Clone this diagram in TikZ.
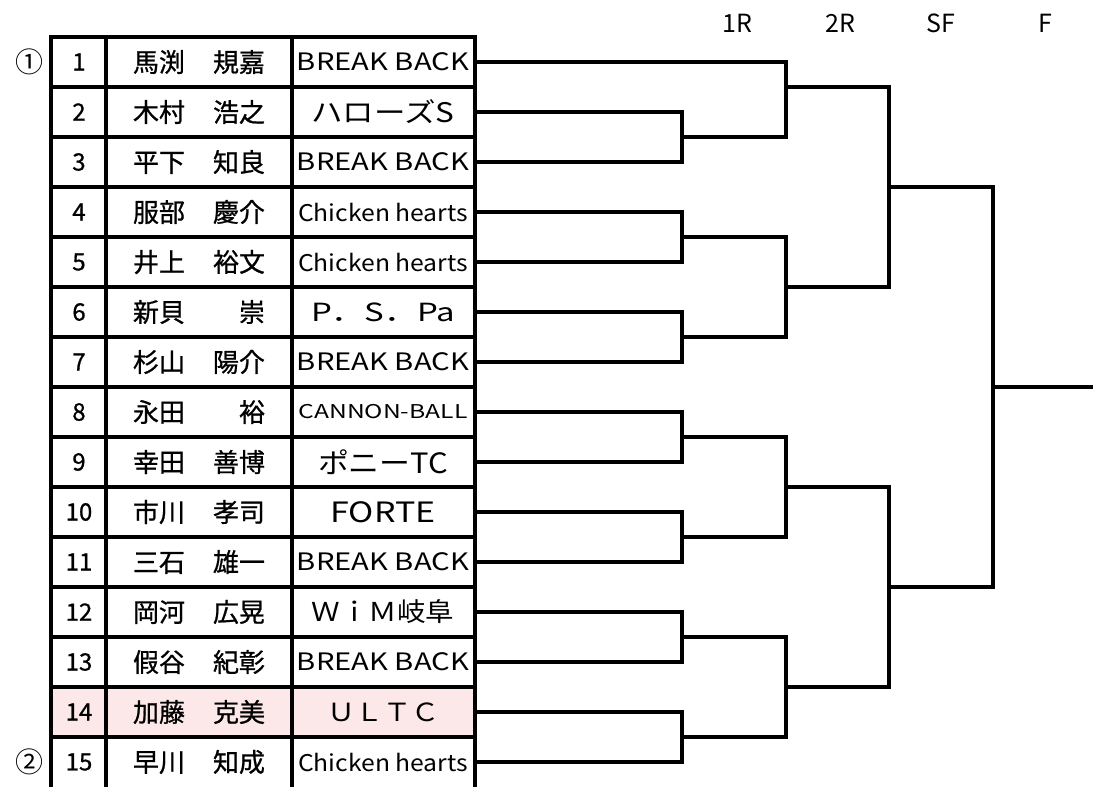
\documentclass[tikz,border=0pt]{standalone}
\usepackage{fontspec}
\newfontfamily\jp{Noto Sans CJK JP}
\newfontfamily\jpb[FakeBold=0.8]{Noto Sans CJK JP}
\definecolor{rosa}{RGB}{252,232,232}
\tikzset{
  linea/.style={line width=3.3pt},
  rejilla/.style={line width=3.3pt, line cap=rect},
  txt/.style={font=\jp, inner sep=0pt},
}
\newcommand{\tam}[1]{\fontsize{#1}{#1}\selectfont}
\begin{document}
\begin{tikzpicture}[x=1pt,y=-1pt]
    \useasboundingbox (0,0) rectangle (1093,787);

    % Fila marcada
    \fill[rosa] (51,687) rectangle (475,737);

    % Tabla
    \foreach \y in {37,87,...,737} \draw[rejilla] (51,\y) -- (475,\y);
    \foreach \x in {51,106,292,475} \draw[rejilla] (\x,37) -- (\x,790);

    % Rondas
    \foreach \x/\r in {737/1R,840/2R,941/SF,1045/F}
        \node[txt, font=\jp\tam{25}] (h\r) at (\x,23) {\r};

    % Cabezas de serie
    \node[txt, font=\jp\tam{28}] (c1) at (30,62) {①};
    \node[txt, font=\jp\tam{28}] (c2) at (30,762) {②};

    % Jugadores
    \foreach \n/\fam/\giv/\team/\ts/\tw in {
        1/馬渕/規嘉/BREAK BACK/24/172,
        2/木村/浩之/ハローズS/27/143,
        3/平下/知良/BREAK BACK/24/172,
        4/服部/慶介/Chicken hearts/23/170,
        5/井上/裕文/Chicken hearts/23/170,
        6/新貝/崇/P．S．Pa/25/144,
        7/杉山/陽介/BREAK BACK/24/172,
        8/永田/裕/CANNON-BALL/19/169,
        9/幸田/善博/ポニーTC/28/130,
        10/市川/孝司/FORTE/28/105,
        11/三石/雄一/BREAK BACK/24/172,
        12/岡河/広晃/ＷｉＭ岐阜/26/143,
        13/假谷/紀彰/BREAK BACK/24/172,
        14/加藤/克美/ＵＬＴＣ/25/112,
        15/早川/知成/Chicken hearts/23/170}{
        \node[txt, font=\jpb\tam{24}] (num\n) at (79,{12+50*\n}) {\n};
        \node[txt, font=\jpb\tam{26}] (nom\n) at (199,{12+50*\n})
            {\makebox[132pt]{\fam\hfill\giv}};
        \node[txt, font=\jp\tam{\ts}] (club\n) at (383,{12+50*\n})
            {\resizebox{\tw pt}{\height}{\team}};
        \coordinate (r\n) at (475,{12+50*\n});
    }

    % Cuadro
    \coordinate (j23) at (682,137);
    \coordinate (j45) at (682,237);
    \coordinate (j67) at (682,337);
    \coordinate (j89) at (682,437);
    \coordinate (j1011) at (682,537);
    \coordinate (j1213) at (682,637);
    \coordinate (j1415) at (682,737);
    \coordinate (k1) at (786,87);
    \coordinate (k2) at (786,287);
    \coordinate (k3) at (786,487);
    \coordinate (k4) at (786,687);
    \coordinate (sf1) at (889,187);
    \coordinate (sf2) at (889,587);
    \coordinate (fin) at (993,387);
    \coordinate (campeon) at (1096,387);

    \draw[linea] (r2) -| (j23) |- (r3);
    \draw[linea] (r4) -| (j45) |- (r5);
    \draw[linea] (r6) -| (j67) |- (r7);
    \draw[linea] (r8) -| (j89) |- (r9);
    \draw[linea] (r10) -| (j1011) |- (r11);
    \draw[linea] (r12) -| (j1213) |- (r13);
    \draw[linea] (r14) -| (j1415) |- (r15);

    \draw[linea] (r1) -| (k1) |- (j23);
    \draw[linea] (j45) -| (k2) |- (j67);
    \draw[linea] (j89) -| (k3) |- (j1011);
    \draw[linea] (j1213) -| (k4) |- (j1415);

    \draw[linea] (k1) -| (sf1) |- (k2);
    \draw[linea] (k3) -| (sf2) |- (k4);

    \draw[linea] (sf1) -| (fin) |- (sf2);
    \draw[linea] (fin) -- (campeon);
\end{tikzpicture}
\end{document}
